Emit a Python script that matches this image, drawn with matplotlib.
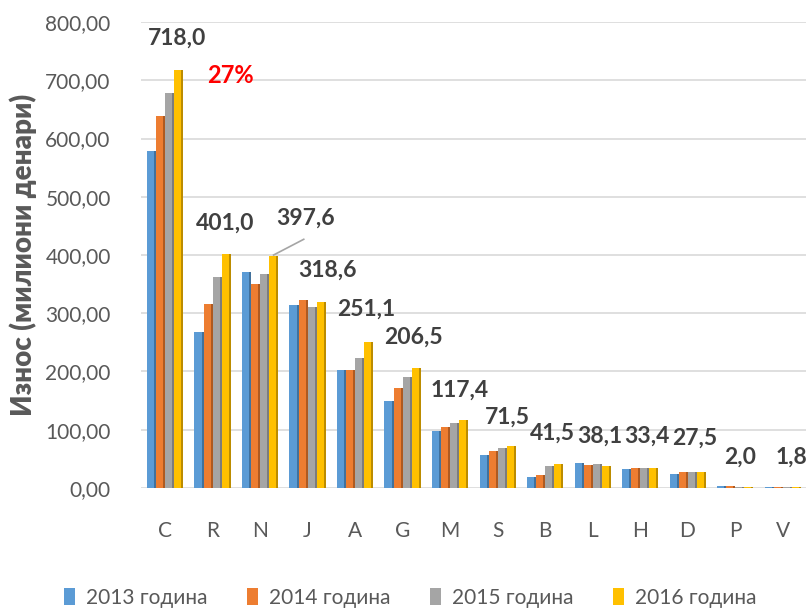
import matplotlib
matplotlib.use("Agg")
import matplotlib.pyplot as plt
import numpy as np
from matplotlib.patches import Patch

categories = ["C", "R", "N", "J", "A", "G", "M", "S", "B", "L", "H", "D", "P", "V"]
series_names = ["2013 година", "2014 година", "2015 година", "2016 година"]
v2013 = [579, 268, 370, 314, 203, 150, 97, 57, 19, 42, 32, 23.5, 2.5, 1.5]
v2014 = [639, 316, 350, 322, 203, 171, 104, 63.5, 23, 40, 34, 27, 2.5, 1.5]
v2015 = [679, 363, 368, 310, 224, 190, 112, 69, 38, 41, 34, 28, 2.2, 1.7]
v2016 = [718.0, 401.0, 397.6, 318.6, 251.1, 206.5, 117.4, 71.5, 41.5, 38.1, 33.4, 27.5, 2.0, 1.8]
label_texts = ["718,0", "401,0", "397,6", "318,6", "251,1", "206,5", "117,4", "71,5",
               "41,5", "38,1", "33,4", "27,5", "2,0", "1,8"]
yticks = [0, 100, 200, 300, 400, 500, 600, 700, 800]
ytick_labels = ["0,00", "100,00", "200,00", "300,00", "400,00", "500,00", "600,00", "700,00", "800,00"]

colors = ["#5B9BD5", "#ED7D31", "#A5A5A5", "#FFC000"]
side_colors = ["#41719C", "#AE5A21", "#7C7C7C", "#BC8C00"]

plt.rcParams['font.family'] = ['Lato', 'DejaVu Sans']

fig = plt.figure(figsize=(8.12, 6.13), dpi=100)
ax = fig.add_axes([0.174, 0.204, 0.819, 0.760])

x = np.arange(len(categories))
w = 0.19
series = [v2013, v2014, v2015, v2016]
for i, vals in enumerate(series):
    off = (i - 1.5) * w
    ax.bar(x + off, vals, width=w, color=colors[i], zorder=3, linewidth=0)
    ax.bar(x + off + w / 2 - 0.02, vals, width=0.04, color=side_colors[i], zorder=4, linewidth=0)

ax.set_xlim(-0.5, len(categories) - 0.5)
ax.set_ylim(0, 800)
ax.set_yticks(yticks)
ax.set_yticklabels(ytick_labels, fontsize=15, color="#595959")
ax.set_xticks(x)
ax.set_xticklabels(categories, fontsize=15, color="#595959")
ax.tick_params(axis='both', length=0)
ax.tick_params(axis='x', pad=24)
ax.tick_params(axis='y', pad=22)
ax.grid(axis='y', color="#D9D9D9", linewidth=1.2, zorder=0)
for s in ax.spines.values():
    s.set_visible(False)

ax.set_ylabel("Износ (милиони денари)", fontsize=20, fontweight='heavy', color="#595959",
              labelpad=6)

label_pos = [(0.25, 772), (1.26, 455), (2.95, 463), (3.41, 374), (4.23, 307), (5.23, 258),
             (6.21, 168), (7.2, 122), (8.15, 94), (9.16, 88), (10.15, 88), (11.16, 86),
             (12.1, 53), (13.18, 53)]
for txt, (lx, ly) in zip(label_texts, label_pos):
    ax.text(lx, ly, txt, ha='center', va='center', fontsize=16.5, fontweight='bold',
            color="#404040", zorder=6)

# leader line for N label
ax.plot([2 + 1.5 * w, 2.92], [400, 427], color="#A5A5A5", linewidth=1.2, zorder=5)

ax.text(1.37, 709, "27%", ha='center', va='center', fontsize=17, fontweight='bold',
        color="#FF0000", zorder=6)

handles = [Patch(facecolor=c, edgecolor='none') for c in colors]
fig.legend(handles, series_names, loc='lower center', ncol=4, frameon=False,
           bbox_to_anchor=(0.505, -0.022), fontsize=15, handlelength=0.55, handleheight=0.9,
           columnspacing=1.9, handletextpad=0.5, labelcolor="#595959")

fig.savefig("out.png", dpi=100)
